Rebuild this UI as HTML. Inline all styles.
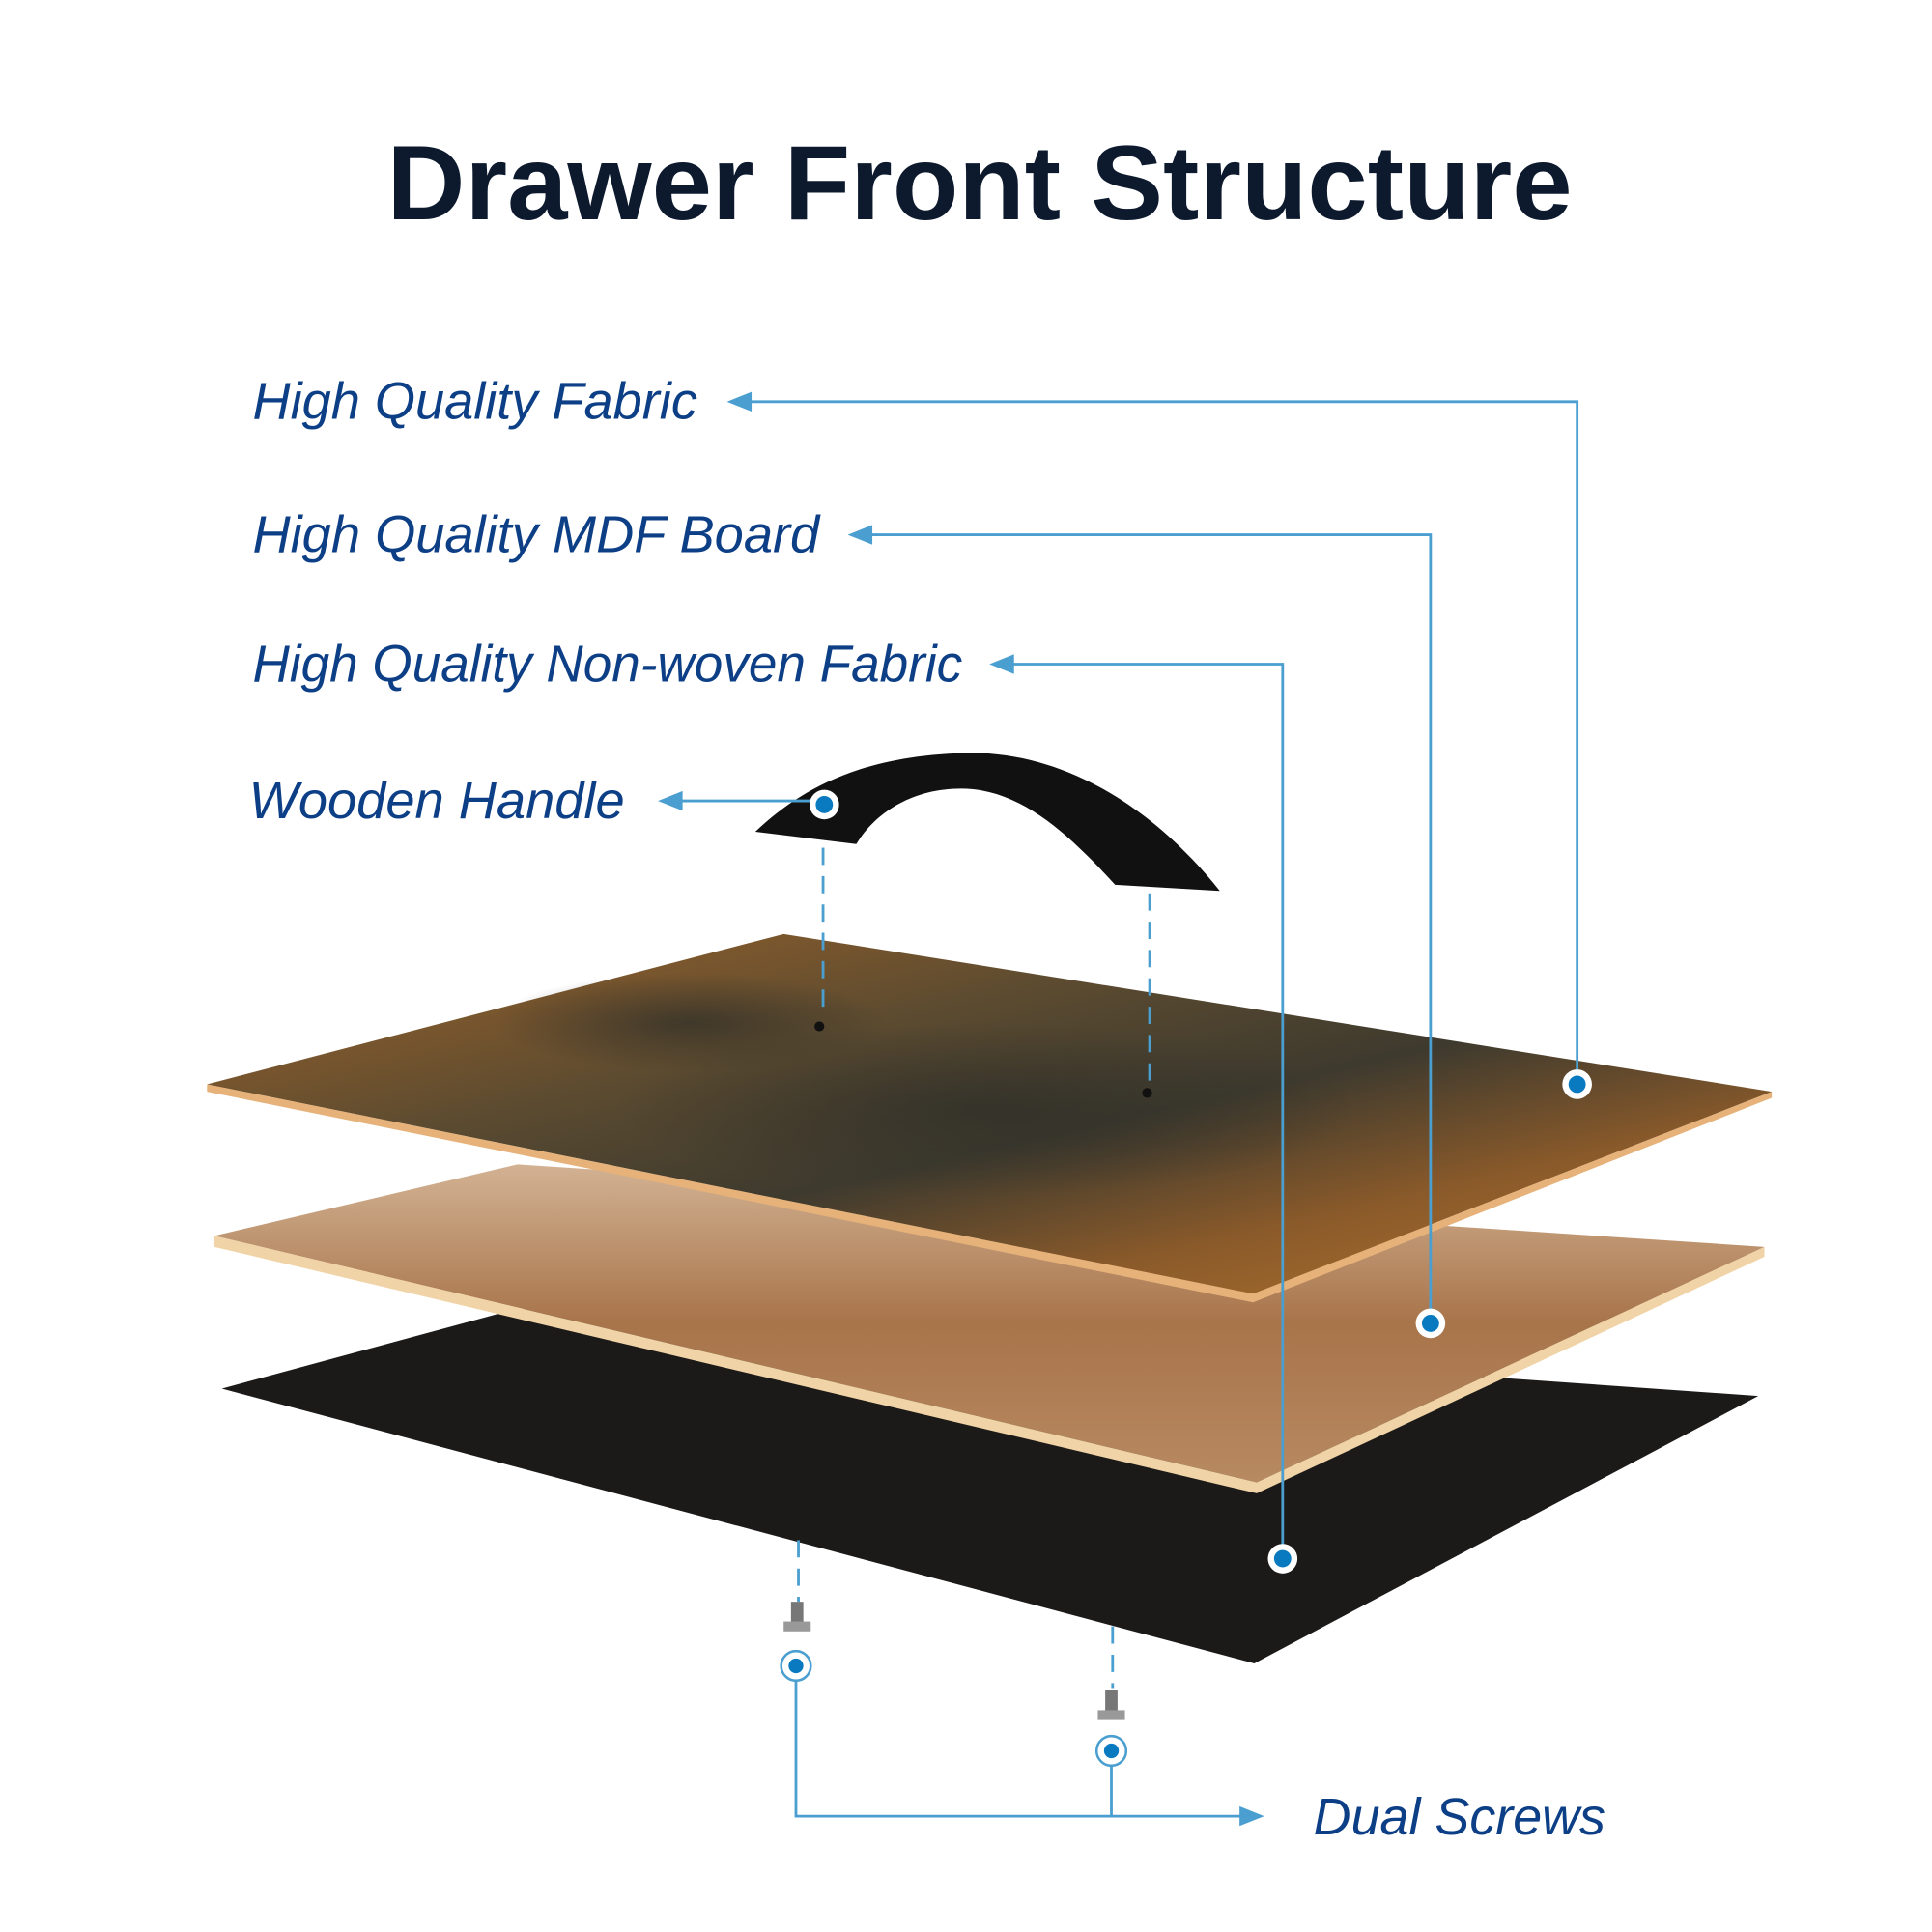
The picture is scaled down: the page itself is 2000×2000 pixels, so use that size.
<!DOCTYPE html>
<html><head><meta charset="utf-8"><style>
html,body{margin:0;padding:0;background:#fff;}
svg{display:block;}
text{font-family:"Liberation Sans",sans-serif;}
</style></head><body>
<svg width="2000" height="2000" viewBox="0 0 1568 1568" xmlns="http://www.w3.org/2000/svg">
<defs>
<linearGradient id="wood" x1="0" y1="0" x2="1" y2="1">
<stop offset="0" stop-color="#a0652a"/><stop offset="0.35" stop-color="#5a4a30"/><stop offset="0.55" stop-color="#3e3a2e"/><stop offset="0.75" stop-color="#8a5a2a"/><stop offset="1" stop-color="#b5762e"/>
</linearGradient>
<radialGradient id="w2" cx="0.5" cy="0.5" r="0.5"><stop offset="0" stop-color="#2e2e28" stop-opacity="0.7"/><stop offset="1" stop-color="#2e2e28" stop-opacity="0"/></radialGradient>
<linearGradient id="mdf" x1="0" y1="0" x2="0" y2="1">
<stop offset="0" stop-color="#d2b293"/><stop offset="0.5" stop-color="#a8744a"/><stop offset="1" stop-color="#b88a62"/>
</linearGradient>
</defs>
<rect width="1568" height="1568" fill="#fff"/>
<text x="795" y="178" text-anchor="middle" font-size="86" font-weight="bold" fill="#0d1a2e" textLength="962" lengthAdjust="spacingAndGlyphs">Drawer Front Structure</text>
<polygon points="180,1127 420,1062 1427,1133 1018,1350" fill="#1c1a19"/>
<polygon points="174,1003 420,945 1432,1012 1020,1203 " fill="url(#mdf)"/>
<polygon points="174,1003 1020,1203 1432,1012 1432,1020 1020,1212 174,1012" fill="#f0d3a6"/>
<polygon points="168,880 636,758 1438,886 1017,1050" fill="url(#wood)"/>
<ellipse cx="800" cy="900" rx="300" ry="70" fill="url(#w2)"/>
<ellipse cx="560" cy="830" rx="160" ry="40" fill="url(#w2)"/>
<polygon points="168,880 1017,1050 1438,886 1438,891 1017,1057 168,886" fill="#e6b27a"/>
<circle cx="665" cy="833" r="4" fill="#111"/><circle cx="931" cy="887" r="4" fill="#111"/>
<path d="M613,675 C650,640 700,612 790,611 C870,612 940,660 990,723 L905,718 C870,680 830,640 780,640 C740,640 710,660 695,685 Z" fill="#111"/>
<g stroke="#4a9fd0" stroke-width="2.2" fill="none">
<polyline points="605,326 1280,326 1280,880"/>
<polyline points="703,434 1161,434 1161,1074"/>
<polyline points="818,539 1041,539 1041,1265"/>
<line x1="548" y1="650" x2="668" y2="650"/>
<polyline points="646,1352 646,1474 1010,1474"/>
<line x1="902" y1="1421" x2="902" y2="1474"/>
<g stroke-dasharray="14,9"><line x1="668" y1="688" x2="668" y2="825"/><line x1="933" y1="725" x2="933" y2="880"/><line x1="648" y1="1250" x2="648" y2="1300"/><line x1="903" y1="1320" x2="903" y2="1370"/></g>
</g>
<g fill="#4a9fd0">
<polygon points="590,326 610,318 610,334"/><polygon points="688,434 708,426 708,442"/><polygon points="803,539 823,531 823,547"/><polygon points="534,650 554,642 554,658"/><polygon points="1026,1474 1006,1466 1006,1482"/>
</g>
<g>
<circle cx="1280" cy="880" r="12" fill="#fff"/><circle cx="1280" cy="880" r="7" fill="#0a7ac0"/>
<circle cx="1161" cy="1074" r="12" fill="#fff"/><circle cx="1161" cy="1074" r="7" fill="#0a7ac0"/>
<circle cx="1041" cy="1265" r="12" fill="#fff"/><circle cx="1041" cy="1265" r="7" fill="#0a7ac0"/>
<circle cx="669" cy="653" r="12" fill="#fff"/><circle cx="669" cy="653" r="7" fill="#0a7ac0"/>
<circle cx="646" cy="1352" r="12" fill="#fff" stroke="#4a9fd0" stroke-width="2"/><circle cx="646" cy="1352" r="6" fill="#0a7ac0"/>
<circle cx="902" cy="1421" r="12" fill="#fff" stroke="#4a9fd0" stroke-width="2"/><circle cx="902" cy="1421" r="6" fill="#0a7ac0"/>
</g>
<g fill="#777"><rect x="642" y="1300" width="10" height="18"/><rect x="636" y="1316" width="22" height="8" fill="#999"/>
<rect x="897" y="1372" width="10" height="18"/><rect x="891" y="1388" width="22" height="8" fill="#999"/></g>
<g font-size="42" font-style="italic" fill="#0d3f86">
<text x="205" y="340" textLength="361" lengthAdjust="spacingAndGlyphs">High Quality Fabric</text>
<text x="205" y="448" textLength="460" lengthAdjust="spacingAndGlyphs">High Quality MDF Board</text>
<text x="205" y="553" textLength="576" lengthAdjust="spacingAndGlyphs">High Quality Non-woven Fabric</text>
<text x="202" y="664" textLength="305" lengthAdjust="spacingAndGlyphs">Wooden Handle</text>
<text x="1066" y="1489" textLength="237" lengthAdjust="spacingAndGlyphs">Dual Screws</text>
</g>
</svg>
</body></html>
